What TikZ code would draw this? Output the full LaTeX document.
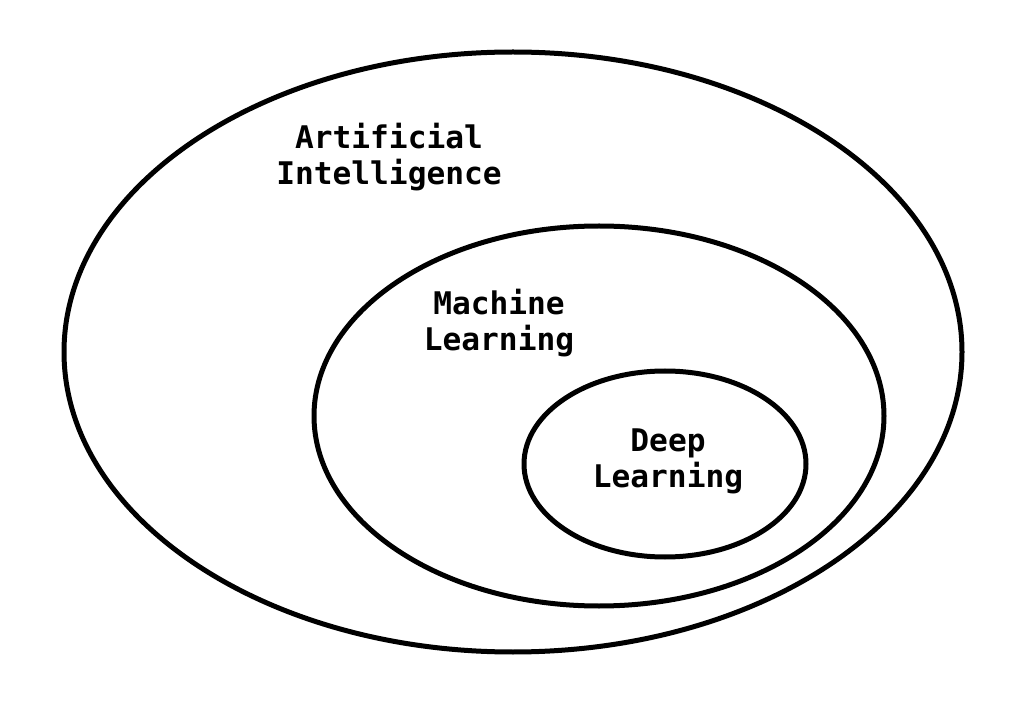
\documentclass[tikz,border=0pt]{standalone}
\usepackage{fontspec}
\setmonofont{DejaVu Sans Mono}
\begin{document}
\begin{tikzpicture}[x=1pt,y=-1pt,
  lbl/.style={font=\ttfamily\bfseries\fontsize{31.2}{36}\selectfont,align=center,inner sep=0pt}]
\useasboundingbox[fill=white] (0,0) rectangle (1029,711);
\draw[line width=5pt] (513,352) ellipse [x radius=449, y radius=300];
\draw[line width=5pt] (599,416) ellipse [x radius=285, y radius=190];
\draw[line width=5pt] (665,464) ellipse [x radius=141, y radius=93];
\node[lbl] (ai) at (389,157) {Artificial\\Intelligence};
\node[lbl] (ml) at (499,323) {Machine\\Learning};
\node[lbl] (dl) at (668,461) {Deep\\Learning};
\end{tikzpicture}
\end{document}
